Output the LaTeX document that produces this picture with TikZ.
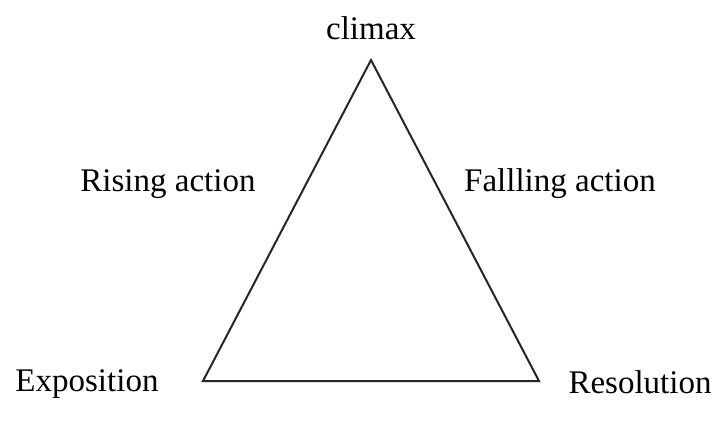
\documentclass[tikz,border=0pt]{standalone}
\usepackage{fontspec}
\setmainfont{Liberation Serif}
\begin{document}
\begin{tikzpicture}[x=1pt,y=-1pt,
  lbl/.style={font=\fontsize{33}{39}\selectfont, inner sep=0pt, text=black},
  edge/.style={line width=2pt, draw=black!85, line join=miter}]
\useasboundingbox (0,0) rectangle (716,424);
\coordinate (top) at (371,60);
\coordinate (bl) at (203,381);
\coordinate (br) at (539,381);
\draw[edge] (top) -- (bl) -- (br) -- cycle;
\node[lbl] (climax) at (371,28) {climax};
\node[lbl] (rising) at (168,184) {Rising action};
\node[lbl] (falling) at (560,184) {Fallling action};
\node[lbl] (expo) at (87,384) {Exposition};
\node[lbl] (reso) at (640,382) {Resolution};
\end{tikzpicture}
\end{document}
